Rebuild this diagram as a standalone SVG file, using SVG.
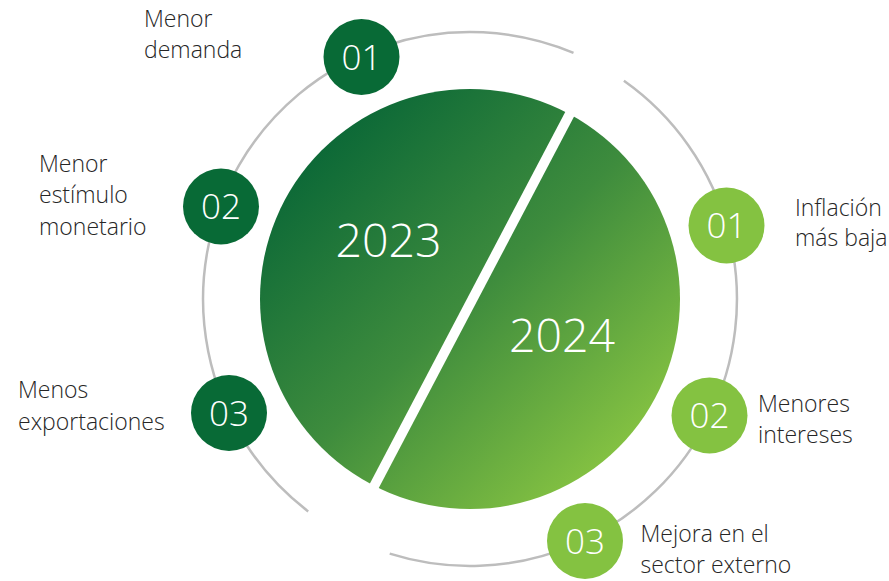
<svg xmlns="http://www.w3.org/2000/svg" width="889" height="581" viewBox="0 0 889 581">
  <defs>
    <linearGradient id="pieGrad" gradientUnits="userSpaceOnUse" x1="320" y1="140" x2="620" y2="460">
      <stop offset="0" stop-color="#0b6837"/>
      <stop offset="0.5" stop-color="#3e8c3d"/>
      <stop offset="1" stop-color="#86c342"/>
    </linearGradient>
    <style>
      .ring { fill: none; stroke: #bdbdbd; stroke-width: 2.5; }
      .dark { fill: #086a36; }
      .light { fill: #84c241; }
      .num { font-family: "Open Sans", "Liberation Sans", sans-serif; font-weight: 300; font-size: 35px; fill: #ffffff; text-anchor: middle; }
      .year { font-family: "Open Sans", "Liberation Sans", sans-serif; font-weight: 300; font-size: 46.5px; fill: #ffffff; text-anchor: middle; }
      .label { font-family: "Open Sans", "Liberation Sans", sans-serif; font-weight: 300; font-size: 23px; fill: #262626; }
    </style>
  </defs>
  <rect width="889" height="581" fill="#ffffff"/>

  <g id="connectors">
    <path class="ring" d="M 623.9 80.8 A 267 267 0 0 1 389.7 553.6"/>
    <path class="ring" d="M 308.2 511.4 A 267 267 0 0 1 573.5 52.9"/>
  </g>

  <g id="pie">
    <circle cx="470" cy="299" r="210" fill="url(#pieGrad)"/>
    <line x1="574" y1="106" x2="370" y2="494" stroke="#ffffff" stroke-width="10"/>
    <text class="year" x="388.5" y="256.5">2023</text>
    <text class="year" x="562" y="351.5">2024</text>
  </g>

  <g id="node-2023-01">
    <circle class="dark" cx="361.5" cy="57" r="38"/>
    <text class="num" x="361.5" y="69.5">01</text>
    <text class="label" x="144" y="26.5">Menor</text>
    <text class="label" x="144" y="58">demanda</text>
  </g>

  <g id="node-2023-02">
    <circle class="dark" cx="221" cy="206.5" r="38"/>
    <text class="num" x="221" y="219">02</text>
    <text class="label" x="39" y="171.5">Menor</text>
    <text class="label" x="39" y="203.2">estímulo</text>
    <text class="label" x="39" y="235">monetario</text>
  </g>

  <g id="node-2023-03">
    <circle class="dark" cx="229" cy="413" r="38"/>
    <text class="num" x="229" y="425.5">03</text>
    <text class="label" x="18" y="398.3">Menos</text>
    <text class="label" x="18" y="430">exportaciones</text>
  </g>

  <g id="node-2024-01">
    <circle class="light" cx="726.5" cy="225.5" r="38"/>
    <text class="num" x="726.5" y="238">01</text>
    <text class="label" x="795" y="216">Inflación</text>
    <text class="label" x="795" y="246">más baja</text>
  </g>

  <g id="node-2024-02">
    <circle class="light" cx="709.5" cy="415.5" r="38"/>
    <text class="num" x="709.5" y="428">02</text>
    <text class="label" x="758" y="411.7">Menores</text>
    <text class="label" x="758" y="443.3">intereses</text>
  </g>

  <g id="node-2024-03">
    <circle class="light" cx="585" cy="541" r="38"/>
    <text class="num" x="585" y="553.5">03</text>
    <text class="label" x="640.5" y="542.3">Mejora en el</text>
    <text class="label" x="640.5" y="573.3">sector externo</text>
  </g>
</svg>
